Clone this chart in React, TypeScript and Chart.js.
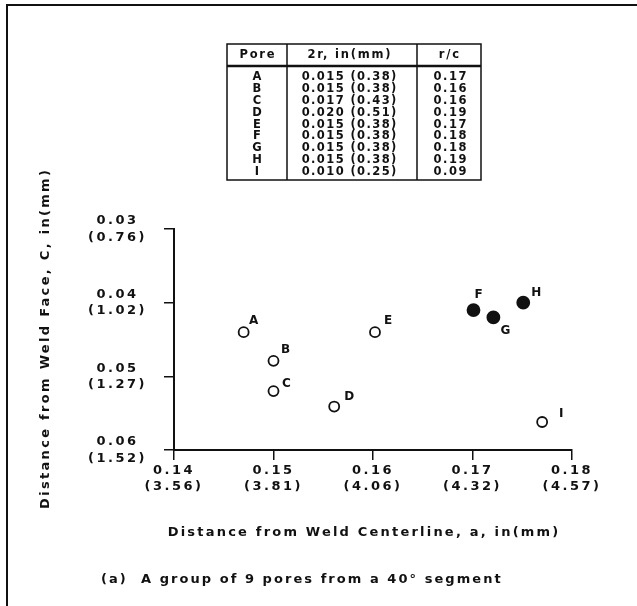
import { useEffect, useRef } from "react";
import { Chart, registerables } from "chart.js";

Chart.register(...registerables);

// ---- data ----
const poreNames = ["A", "B", "C", "D", "E", "F", "G", "H", "I"];
const poreDistCenterline = [0.147, 0.15, 0.15, 0.1561, 0.1602, 0.1701, 0.1721, 0.1751, 0.177];
const poreDistFace = [0.044, 0.0479, 0.052, 0.0541, 0.044, 0.041, 0.042, 0.04, 0.0562];
const solidPores = ["F", "G", "H"];

const tableHeaders = ["Pore", "2r, in(mm)", "r/c"];
const diameterIn = ["0.015", "0.015", "0.017", "0.020", "0.015", "0.015", "0.015", "0.015", "0.010"];
const diameterMm = ["0.38", "0.38", "0.43", "0.51", "0.38", "0.38", "0.38", "0.38", "0.25"];
const ratioRC = ["0.17", "0.16", "0.16", "0.19", "0.17", "0.18", "0.18", "0.19", "0.09"];

const xTickIn = [0.14, 0.15, 0.16, 0.17, 0.18];
const xTickMm = ["3.56", "3.81", "4.06", "4.32", "4.57"];
const yTickIn = [0.03, 0.04, 0.05, 0.06];
const yTickMm = ["0.76", "1.02", "1.27", "1.52"];

const xTitle = "Distance from Weld Centerline, a, in(mm)";
const yTitle = "Distance from Weld Face, C, in(mm)";
const caption = "(a)  A group of 9 pores from a 40\u00b0 segment";

// ---- styling / placement (not data) ----
const labelOffsets: [number, number][] = [
  [10, -11], [12, -11], [13, -7], [15, -10], [13, -11], [5, -15], [12, 13], [13, -10], [19, -8],
];
const FONT = '"DejaVu Sans", sans-serif';
const INK = "#111";
const W = 637;
const H = 606;

function txt(ctx: CanvasRenderingContext2D, s: string, x: number, y: number, size: number, ls: number, align: CanvasTextAlign) {
  (ctx as any).letterSpacing = ls + "px";
  ctx.font = `bold ${size}px ${FONT}`;
  ctx.fillStyle = INK;
  ctx.textAlign = align;
  ctx.textBaseline = "middle";
  const dx = align === "center" ? ls / 2 : 0;
  ctx.fillText(s, x + dx, y);
}

const figurePlugin = {
  id: "figure",
  beforeLayout(chart: any) {
    chart.ctx.letterSpacing = "2.5px";
  },
  beforeDraw(chart: any) {
    chart.ctx.letterSpacing = "2.5px";
  },
  afterDraw(chart: any) {
    const ctx: CanvasRenderingContext2D = chart.ctx;
    ctx.save();
    // frame
    ctx.strokeStyle = INK;
    ctx.lineWidth = 2;
    ctx.beginPath();
    ctx.moveTo(7, H);
    ctx.lineTo(7, 5);
    ctx.lineTo(W, 5);
    ctx.stroke();

    // table
    const tl = 227, tr = 481, tt = 44, tb = 180;
    const c1 = 287, c2 = 417, hl = 66;
    ctx.lineWidth = 1.5;
    ctx.strokeRect(tl, tt, tr - tl, tb - tt);
    ctx.beginPath();
    ctx.moveTo(c1, tt); ctx.lineTo(c1, tb);
    ctx.moveTo(c2, tt); ctx.lineTo(c2, tb);
    ctx.stroke();
    ctx.lineWidth = 2.5;
    ctx.beginPath();
    ctx.moveTo(tl, hl); ctx.lineTo(tr, hl);
    ctx.stroke();
    const colCenters = [(tl + c1) / 2, (c1 + c2) / 2 - 3, (c2 + tr) / 2];
    tableHeaders.forEach((h, i) => txt(ctx, h, colCenters[i], 55.5, 11.5, 1.8, "center"));
    poreNames.forEach((n, i) => {
      const y = 77 + i * 11.9;
      txt(ctx, n, colCenters[0], y, 11.5, 1.5, "center");
      txt(ctx, `${diameterIn[i]} (${diameterMm[i]})`, colCenters[1], y, 11.5, 1.4, "center");
      txt(ctx, ratioRC[i], colCenters[2] + 1, y, 11.5, 1.5, "center");
    });

    // point labels
    const meta = chart.getDatasetMeta(0);
    meta.data.forEach((el: any, i: number) => {
      txt(ctx, poreNames[i], el.x + labelOffsets[i][0], el.y + labelOffsets[i][1], 12, 0, "center");
    });

    // axis titles and caption
    const area = chart.chartArea;
    txt(ctx, xTitle, 363, 533, 13, 2.2, "center");
    ctx.save();
    ctx.translate(46, (area.top + area.bottom) / 2);
    ctx.rotate(-Math.PI / 2);
    txt(ctx, yTitle, 0, 0, 13, 2.3, "center");
    ctx.restore();
    txt(ctx, caption, 101, 580, 13, 2.05, "left");
    ctx.restore();
  },
};

export default function App() {
  const ref = useRef<HTMLCanvasElement | null>(null);
  useEffect(() => {
    if (!ref.current) return;
    const tickFont = { family: FONT, size: 13, weight: "bold" as const, lineHeight: 1.25 };
    const chart = new Chart(ref.current, {
      type: "scatter",
      data: {
        datasets: [
          {
            data: poreNames.map((_, i) => ({ x: poreDistCenterline[i], y: poreDistFace[i] })),
            pointRadius: poreNames.map((n) => (solidPores.includes(n) ? 6 : 5)),
            pointBackgroundColor: poreNames.map((n) => (solidPores.includes(n) ? INK : "#fff")),
            pointBorderColor: INK,
            pointBorderWidth: 1.8,
          },
        ],
      },
      options: {
        responsive: false,
        animation: false,
        devicePixelRatio: 1,
        events: [],
        layout: { padding: { top: 229, right: 65, left: 0, bottom: 0 } },
        plugins: { legend: { display: false }, tooltip: { enabled: false } },
        scales: {
          x: {
            type: "linear",
            min: 0.14,
            max: 0.18,
            afterBuildTicks: (s: any) => {
              s.ticks = xTickIn.map((v) => ({ value: v }));
            },
            afterFit: (s: any) => {
              s.height = H - 450;
            },
            grid: { drawOnChartArea: false, drawTicks: true, tickLength: 10, color: INK, lineWidth: 1.5 },
            border: { display: true, color: INK, width: 2 },
            ticks: {
              font: tickFont,
              color: INK,
              padding: 2,
              maxRotation: 0,
              autoSkip: false,
              callback: (_v: any, i: number) => [xTickIn[i].toFixed(2), `(${xTickMm[i]})`],
            },
          },
          y: {
            type: "linear",
            reverse: true,
            min: 0.03,
            max: 0.06,
            afterBuildTicks: (s: any) => {
              s.ticks = yTickIn.map((v) => ({ value: v }));
            },
            afterFit: (s: any) => {
              s.width = 174;
            },
            grid: { drawOnChartArea: false, drawTicks: true, tickLength: 10, color: INK, lineWidth: 1.5 },
            border: { display: true, color: INK, width: 2 },
            ticks: {
              font: tickFont,
              color: INK,
              padding: 17,
              crossAlign: "center",
              autoSkip: false,
              callback: (_v: any, i: number) => [yTickIn[i].toFixed(2), `(${yTickMm[i]})`],
            },
          },
        },
      },
      plugins: [figurePlugin],
    });
    return () => chart.destroy();
  }, []);
  return (
    <div style={{ position: "fixed", left: 0, top: 0, width: W, height: H, background: "#fff" }}>
      <canvas ref={ref} width={W} height={H} style={{ display: "block", width: W, height: H }} />
    </div>
  );
}
